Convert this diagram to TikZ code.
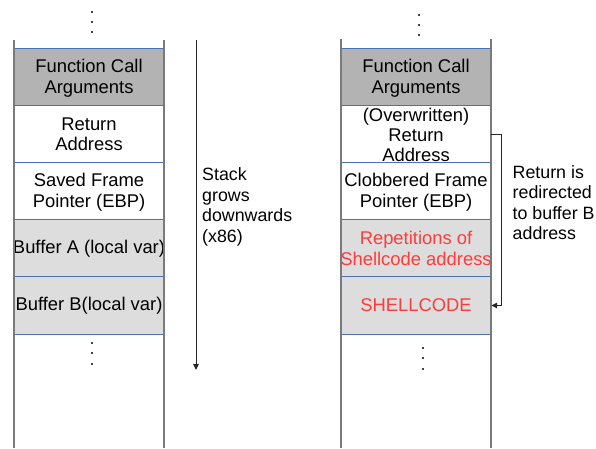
\documentclass[tikz,border=0pt]{standalone}
\usepackage{fontspec}
\setmainfont{Liberation Sans}
\usetikzlibrary{arrows.meta}
\definecolor{argfill}{HTML}{B3B3B3}
\definecolor{buffill}{HTML}{DDDDDD}
\definecolor{sepblue}{HTML}{4A72B0}
\definecolor{wallgray}{HTML}{7A7A7A}
\definecolor{exploit}{HTML}{FF3B3B}

\begin{document}
\begin{tikzpicture}[x=1pt,y=-1pt,
  cell/.style={minimum width=150pt,minimum height=57pt,inner sep=0pt,align=center,
    font=\fontsize{18.4}{20.5}\selectfont},
  args/.style={cell,fill=argfill},
  buf/.style={cell,fill=buffill},
  plain/.style={cell},
  wall/.style={wallgray,line width=1.4pt},
  sep/.style={sepblue,line width=0.9pt},
  dot/.style={circle,fill=black,inner sep=0pt,minimum size=2.2pt},
  note/.style={align=left,anchor=west,inner sep=0pt,font=\fontsize{17.8}{20.5}\selectfont},
  arr/.style={-{Triangle[length=6pt,width=5.5pt]},line width=0.9pt,black!85}
]
\useasboundingbox (0,0) rectangle (596,448);

% ---------- normal stack frame ----------
\node[args]  (la) at (89,77.5)  {\strut Function Call\\Arguments};
\node[plain] (lr) at (89,134.5) {Return\\Address};
\node[plain] (lf) at (89,191.5) {\strut Saved Frame\\Pointer (EBP)};
\node[buf]   (lba) at (89,248.5) {Buffer A (local var)};
\node[buf]   (lbb) at (89,305.5) {Buffer B(local var)};

\foreach \n in {la,lr,lf,lba,lbb}
  \draw[sep] (\n.north west) -- (\n.north east);
\draw[sep] (lbb.south west) -- (lbb.south east);

\coordinate (lwl) at (14,40);  \coordinate (lwlb) at (14,448);
\coordinate (lwr) at (164,40); \coordinate (lwrb) at (164,448);
\draw[wall] (lwl) -- (lwlb);
\draw[wall] (lwr) -- (lwrb);

\node[dot] (ld1) at (92,12) {};
\node[dot] (ld2) at (92,22) {};
\node[dot] (ld3) at (92,32) {};
\node[dot] (ld4) at (92,343) {};
\node[dot] (ld5) at (92,353) {};
\node[dot] (ld6) at (92,364) {};

% ---------- growth direction ----------
\coordinate (gtop) at (196,40);
\coordinate (gbot) at (196,370);
\draw[arr] (gtop) -- (gbot);
\node[note] (gtxt) at (202,207) {Stack\\grows\\downwards\\(x86)};

% ---------- overflowed stack frame ----------
\node[args]  (ra) at (416,77.5)  {\strut Function Call\\Arguments};
\node[plain,font=\fontsize{18.4}{20}\selectfont] (rr) at (416,134.5) {(Overwritten)\\Return\\Address};
\node[plain] (rf) at (416,191.5) {\strut Clobbered Frame\\Pointer (EBP)};
\node[buf,text=exploit] (rrep) at (416,248.5) {Repetitions of\\Shellcode address};
\node[buf,text=exploit] (rsc) at (416,305.5) {SHELLCODE};

\foreach \n in {ra,rr,rf,rrep,rsc}
  \draw[sep] (\n.north west) -- (\n.north east);
\draw[sep] (rsc.south west) -- (rsc.south east);

\coordinate (rwl) at (341,39);  \coordinate (rwlb) at (341,448);
\coordinate (rwr) at (491,39);  \coordinate (rwrb) at (491,448);
\draw[wall] (rwl) -- (rwlb);
\draw[wall] (rwr) -- (rwrb);

\node[dot] (rd1) at (419,15) {};
\node[dot] (rd2) at (419,25) {};
\node[dot] (rd3) at (419,35) {};
\node[dot] (rd4) at (423,348) {};
\node[dot] (rd5) at (423,358) {};
\node[dot] (rd6) at (423,369) {};

% ---------- redirected return ----------
\draw[arr] (rr.east) -- ++(10,0) |- (rsc.east);
\node[note] (rtxt) at (512.5,202.5) {Return is\\redirected\\to buffer B\\address};
\end{tikzpicture}
\end{document}
